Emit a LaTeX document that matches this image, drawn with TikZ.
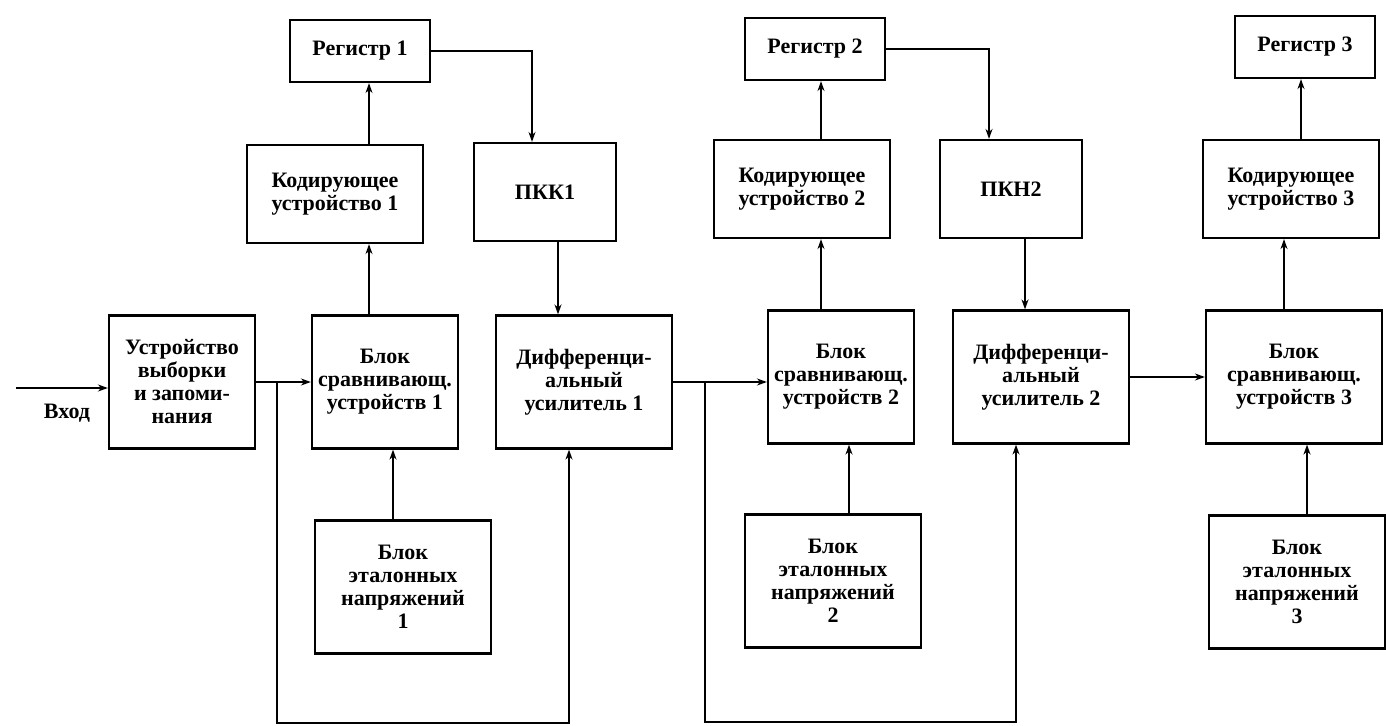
\documentclass[tikz,border=0pt]{standalone}
\usepackage{fontspec}
\setmainfont{Liberation Serif}
\usetikzlibrary{arrows.meta}

\newcommand{\blkfont}{\fontsize{11}{11.5}\selectfont\bfseries}

\tikzset{
  blk/.style={draw, line width=1.1pt, align=center, font=\blkfont, inner sep=2pt},
  regbox/.style={blk, minimum width=70pt, minimum height=31pt},
  codbox/.style={blk, minimum width=88pt, minimum height=49pt},
  pkbox/.style={blk, minimum width=71pt, minimum height=49pt},
  lowbox/.style={blk, minimum width=73pt, minimum height=66.5pt},
  widebox/.style={blk, minimum width=88pt, minimum height=66.5pt},
  lnk/.style={line width=0.8pt, ->},
}

\begin{document}
\begin{tikzpicture}[x=0.5pt,y=0.5pt,>={Stealth[length=5pt,width=3.5pt]}]
  \useasboundingbox (0,0) rectangle (1386,725);

  % registers
  \node[regbox] (reg1) at (360,674) {Регистр 1};
  \node[regbox] (reg2) at (815,676) {Регистр 2};
  \node[regbox] (reg3) at (1305,678) {Регистр 3};

  % coders and converters
  \node[codbox] (kod1) at (335,531) {Кодирующее\\устройство 1};
  \node[pkbox] (pkk1) at (545,533) {ПКК1};
  \node[codbox] (kod2) at (802,536) {Кодирующее\\устройство 2};
  \node[pkbox] (pkn2) at (1011,536) {ПКН2};
  \node[codbox] (kod3) at (1291,536) {Кодирующее\\устройство 3};

  % main chain
  \node[lowbox] (ustr) at (182,343) {Устройство\\выборки\\и запоми-\\нания};
  \node[lowbox] (bs1) at (385,343) {Блок\\сравнивающ.\\устройств 1};
  \node[widebox] (diff1) at (584,343) {Дифференци-\\альный\\усилитель 1};
  \node[lowbox] (bs2) at (841,348) {Блок\\сравнивающ.\\устройств 2};
  \node[widebox] (diff2) at (1041,348) {Дифференци-\\альный\\усилитель 2};
  \node[widebox] (bs3) at (1294,348) {Блок\\сравнивающ.\\устройств 3};

  % reference voltages
  \node[widebox] (et1) at (403,138) {Блок\\эталонных\\напряжений\\1};
  \node[widebox] (et2) at (833,144) {Блок\\эталонных\\напряжений\\2};
  \node[widebox] (et3) at (1297,143) {Блок\\эталонных\\напряжений\\3};

  % input
  \coordinate (vin) at (16,337);
  \draw[lnk] (vin) -- (ustr.west |- vin);
  \node[font=\blkfont] (vhod) at (67,312) {Вход};
  \draw[lnk] (ustr) -- (bs1);

  % first stage
  \coordinate (fb1) at (277,2);
  \coordinate (fb1e) at (569,2);
  \draw[lnk] (ustr.east -| fb1) -- (fb1) -- (fb1e) -- (diff1.south -| fb1e);
  \coordinate (c1) at (369,0);
  \coordinate (c2) at (393,0);
  \coordinate (c3) at (532,0);
  \coordinate (c4) at (558,0);
  \draw[lnk] (et1.north -| c2) -- (bs1.south -| c2);
  \draw[lnk] (bs1.north -| c1) -- (kod1.south -| c1);
  \draw[lnk] (kod1.north -| c1) -- (reg1.south -| c1);
  \draw[lnk] (reg1.east) -| (pkk1.north -| c3);
  \draw[lnk] (pkk1.south -| c4) -- (diff1.north -| c4);

  % second stage
  \draw[lnk] (diff1.east) -- (bs2.west |- diff1.east);
  \coordinate (fb2) at (705,3);
  \coordinate (fb2e) at (1016,3);
  \draw[lnk] (diff1.east -| fb2) -- (fb2) -- (fb2e) -- (diff2.south -| fb2e);
  \coordinate (c5) at (821,0);
  \coordinate (c6) at (849,0);
  \coordinate (c7) at (989,0);
  \coordinate (c8) at (1025,0);
  \draw[lnk] (et2.north -| c6) -- (bs2.south -| c6);
  \draw[lnk] (bs2.north -| c5) -- (kod2.south -| c5);
  \draw[lnk] (kod2.north -| c5) -- (reg2.south -| c5);
  \draw[lnk] (reg2.east) -| (pkn2.north -| c7);
  \draw[lnk] (pkn2.south -| c8) -- (diff2.north -| c8);

  % third stage
  \draw[lnk] (diff2) -- (bs3);
  \coordinate (c9) at (1284,0);
  \coordinate (c10) at (1301,0);
  \coordinate (c11) at (1307,0);
  \draw[lnk] (et3.north -| c11) -- (bs3.south -| c11);
  \draw[lnk] (bs3.north -| c9) -- (kod3.south -| c9);
  \draw[lnk] (kod3.north -| c10) -- (reg3.south -| c10);
\end{tikzpicture}
\end{document}
